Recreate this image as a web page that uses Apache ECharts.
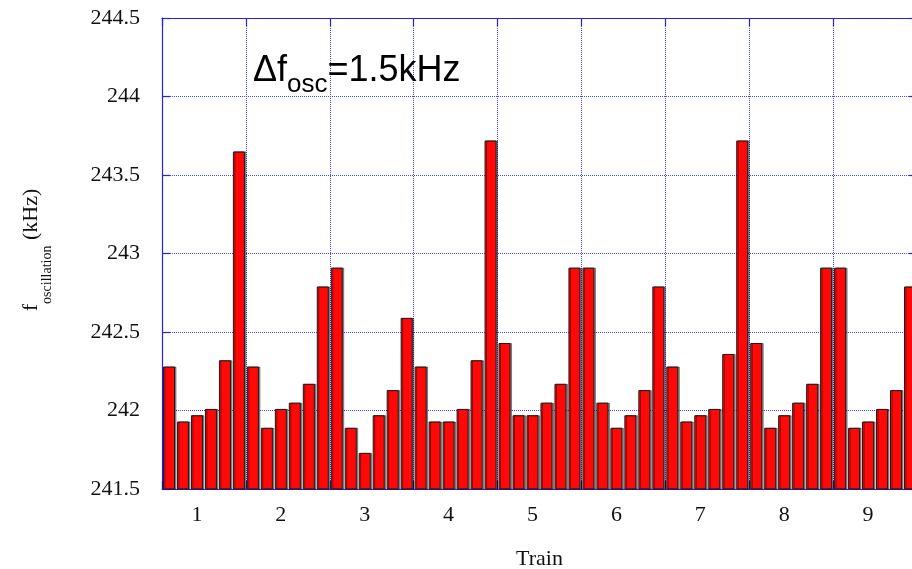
<!DOCTYPE html>
<html>
<head>
<meta charset="utf-8">
<script src="https://cdn.jsdelivr.net/npm/echarts@6/dist/echarts.min.js"></script>
<style>
  html, body { margin: 0; padding: 0; background: #ffffff; }
  #chart { width: 912px; height: 569px; }
</style>
</head>
<body>
<div id="chart"></div>
<script>
// Oscillation frequency (kHz) of each of the 6 bunches in every train
const trainLabels = ['1', '2', '3', '4', '5', '6', '7', '8', '9'];
const train1 = [242.28, 241.93, 241.97, 242.01, 242.32, 243.65];
const train2 = [242.28, 241.89, 242.01, 242.05, 242.17, 242.79];
const train3 = [242.91, 241.89, 241.73, 241.97, 242.13, 242.59];
const train4 = [242.28, 241.93, 241.93, 242.01, 242.32, 243.72];
const train5 = [242.43, 241.97, 241.97, 242.05, 242.17, 242.91];
const train6 = [242.91, 242.05, 241.89, 241.97, 242.13, 242.79];
const train7 = [242.28, 241.93, 241.97, 242.01, 242.36, 243.72];
const train8 = [242.43, 241.89, 241.97, 242.05, 242.17, 242.91];
const train9 = [242.91, 241.89, 241.93, 242.01, 242.13, 242.79];

const bunchesPerTrain = 6;
const yMin = 241.5;
const yMax = 244.5;
const yStep = 0.5;

const trains = [train1, train2, train3, train4, train5, train6, train7, train8, train9];

// one category per bunch, named "train-bunch"
const categories = [];
trainLabels.forEach(function (t) {
  for (let b = 1; b <= bunchesPerTrain; b++) categories.push(t + '-' + b);
});
const values = [].concat.apply([], trains);

const frameBlue = '#2222f0';
const gridBlue = '#4646ff';
const serif = '"Liberation Serif", "Times New Roman", serif';

const trainBoundary = function (i) { return i % bunchesPerTrain === 0; };
const trainLabelSlot = function (i) { return i % bunchesPerTrain === 2; };

const chart = echarts.init(document.getElementById('chart'), null, { renderer: 'canvas' });

chart.setOption({
  animation: false,
  backgroundColor: '#ffffff',
  grid: {
    left: 162, top: 18, right: -5, bottom: 80,
    containLabel: false,
    outerBoundsMode: 'none'
  },
  xAxis: [
    {
      type: 'category',
      data: categories,
      boundaryGap: true,
      position: 'bottom',
      name: 'Train',
      nameLocation: 'middle',
      nameGap: 59,
      nameTextStyle: { fontFamily: serif, fontSize: 22, color: '#111' },
      axisLine: { show: true, lineStyle: { color: frameBlue, width: 1.2 } },
      axisTick: { show: true, inside: true, length: 8, interval: trainBoundary,
                  lineStyle: { color: '#1a1a90', width: 1.2 } },
      axisLabel: {
        interval: trainLabelSlot,
        formatter: function (v) { return v.split('-')[0]; },
        fontFamily: serif, fontSize: 22, color: '#111', margin: 15
      },
      splitLine: { show: true, interval: trainBoundary,
                   lineStyle: { color: gridBlue, type: [1, 1], width: 1 } }
    },
    {
      type: 'category',
      data: categories,
      boundaryGap: true,
      position: 'top',
      axisLine: { show: true, lineStyle: { color: frameBlue, width: 1.2 } },
      axisTick: { show: true, inside: true, length: 8, interval: trainBoundary,
                  lineStyle: { color: frameBlue, width: 1.2 } },
      axisLabel: { show: false },
      splitLine: { show: false }
    }
  ],
  yAxis: [
    {
      type: 'value',
      min: yMin, max: yMax, interval: yStep,
      axisLine: { show: true, lineStyle: { color: frameBlue, width: 1.2 } },
      axisTick: { show: true, inside: true, length: 8, lineStyle: { color: frameBlue, width: 1.2 } },
      axisLabel: { fontFamily: serif, fontSize: 22, color: '#111', margin: 22 },
      splitLine: { show: true, lineStyle: { color: gridBlue, type: [1, 1], width: 1 } }
    },
    {
      type: 'value',
      position: 'right',
      min: yMin, max: yMax, interval: yStep,
      axisLine: { show: true, lineStyle: { color: frameBlue, width: 1.2 } },
      axisTick: { show: true, inside: true, length: 8, lineStyle: { color: frameBlue, width: 1.2 } },
      axisLabel: { show: false },
      splitLine: { show: false }
    }
  ],
  series: [
    {
      type: 'bar',
      xAxisIndex: 0,
      yAxisIndex: 0,
      data: values,
      barCategoryGap: '14%',
      itemStyle: {
        color: '#ff0808',
        borderColor: '#1c1c1c',
        borderWidth: 1,
        shadowColor: 'rgba(0,0,0,0.4)',
        shadowOffsetX: 1.5,
        shadowBlur: 0
      }
    }
  ],
  graphic: [
    {
      type: 'text',
      x: 253, y: 53,
      z: 10,
      style: {
        text: '{m|Δf}{s|osc}{m|=1.5kHz}',
        align: 'left',
        verticalAlign: 'top',
        rich: {
          m: { fontFamily: '"Liberation Sans", Arial, sans-serif', fontSize: 36, lineHeight: 40,
               verticalAlign: 'top', fill: '#000' },
          s: { fontFamily: '"Liberation Sans", Arial, sans-serif', fontSize: 26, lineHeight: 26,
               verticalAlign: 'top', padding: [19, 0, 0, 0], fill: '#000' }
        }
      }
    },
    {
      type: 'text',
      x: 33, y: 250,
      rotation: Math.PI / 2,
      z: 10,
      style: {
        text: '{m|f}{s|oscillation}{m| (kHz)}',
        align: 'center',
        verticalAlign: 'middle',
        rich: {
          m: { fontFamily: serif, fontSize: 22, lineHeight: 26, verticalAlign: 'top', fill: '#111' },
          s: { fontFamily: serif, fontSize: 14, lineHeight: 16, verticalAlign: 'top',
               padding: [20, 0, 0, 0], fill: '#111' }
        }
      }
    }
  ]
});
</script>
</body>
</html>
